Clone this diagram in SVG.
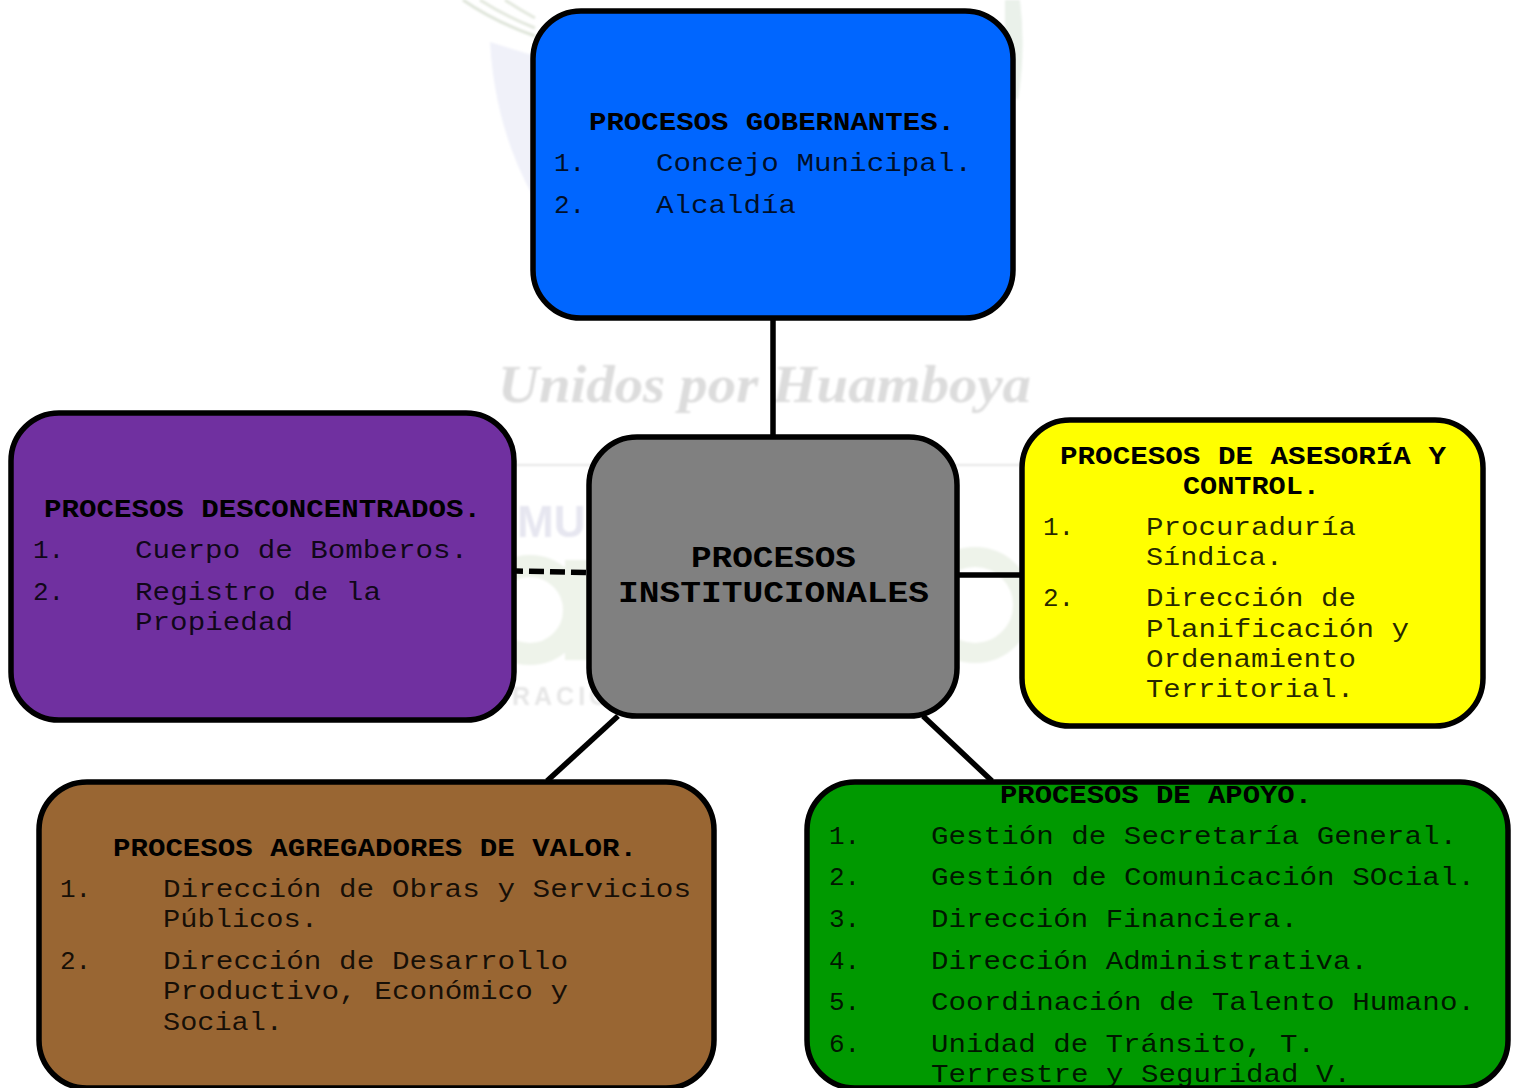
<svg xmlns="http://www.w3.org/2000/svg" width="1515" height="1088" viewBox="0 0 1515 1088">
<defs>
<filter id="soft" x="-10%" y="-10%" width="120%" height="120%"><feGaussianBlur stdDeviation="1"/></filter>
</defs>
<style>
.box{stroke:#000;stroke-width:5.5}
.b{font-family:"Liberation Mono","Courier New",monospace;font-weight:700;font-size:26px;fill:#000}
.r{font-family:"Liberation Mono","Courier New",monospace;font-size:26px;fill:#000;fill-opacity:.85}
.c{stroke:#000;stroke-width:5.5;fill:none}
</style>
<rect width="1515" height="1088" fill="#fff"/>
<g id="watermark" filter="url(#soft)">
<path d="M490 42L535 56V200Q495 130 490 42Z" fill="#f0f1f9"/>
<path d="M1005 0H1020Q1026 50 1018 100L1005 90Z" fill="#eaf1ea"/>
<path d="M463 0Q495 22 535 36" fill="none" stroke="#dfe5da" stroke-width="3"/>
<path d="M480 0Q505 16 535 28" fill="none" stroke="#e3e8de" stroke-width="3"/>
<path d="M505 0Q520 10 535 18" fill="none" stroke="#e3e8de" stroke-width="3"/>
<path d="M515 465H1025" stroke="#e6e6e6" stroke-width="2"/>
<text x="498" y="402" textLength="533" lengthAdjust="spacingAndGlyphs" font-family="Liberation Serif,serif" font-style="italic" font-weight="700" font-size="52" fill="#dcdcdc">Unidos por Huamboya</text>
<text x="517" y="537" font-family="Liberation Sans,sans-serif" font-weight="700" font-size="44" fill="#e6e6f0">MUI</text>
<text x="512" y="705" font-family="Liberation Sans,sans-serif" font-weight="700" font-size="25" letter-spacing="4" fill="#e6e6e6">RACIO</text>
<circle cx="530" cy="610" r="44" fill="none" stroke="#eef3ea" stroke-width="22"/>
<rect x="565" y="560" width="26" height="100" fill="#eef3ea"/>
<circle cx="975" cy="605" r="48" fill="none" stroke="#eef3ea" stroke-width="20"/>
</g>
<g id="connectors">
<path class="c" d="M773 318V437"/>
<path class="c" d="M516 571L589 572.500" stroke-dasharray="15 6" stroke-dashoffset="8"/>
<path class="c" d="M958 575H1022"/>
<path class="c" d="M618 716L547 781"/>
<path class="c" d="M923 716L992 781"/>
</g>
<g id="n-gobernantes">
<rect class="box" x="533" y="11" width="480" height="307" rx="48" fill="#0066ff"/>
<text class="b" x="589" y="130" textLength="366" lengthAdjust="spacingAndGlyphs">PROCESOS GOBERNANTES.</text>
<text class="r" x="554" y="171">1.</text><text class="r" x="656" y="171" textLength="316" lengthAdjust="spacingAndGlyphs">Concejo Municipal.</text>
<text class="r" x="554" y="213">2.</text><text class="r" x="656" y="213" textLength="140" lengthAdjust="spacingAndGlyphs">Alcaldía</text>
</g>
<g id="n-institucionales">
<rect class="box" x="589" y="437" width="368" height="279" rx="48" fill="#808080"/>
<text class="b" x="691" y="567" style="font-size:29px" textLength="165" lengthAdjust="spacingAndGlyphs">PROCESOS</text>
<text class="b" x="618" y="602" style="font-size:29px" textLength="311" lengthAdjust="spacingAndGlyphs">INSTITUCIONALES</text>
</g>
<g id="n-desconcentrados">
<rect class="box" x="11" y="413" width="503" height="307" rx="48" fill="#7030a0"/>
<text class="b" x="44" y="517" textLength="437" lengthAdjust="spacingAndGlyphs">PROCESOS DESCONCENTRADOS.</text>
<text class="r" x="33" y="558">1.</text><text class="r" x="135" y="558" textLength="333" lengthAdjust="spacingAndGlyphs">Cuerpo de Bomberos.</text>
<text class="r" x="33" y="600">2.</text><text class="r" x="135" y="600" textLength="246" lengthAdjust="spacingAndGlyphs">Registro de la</text>
<text class="r" x="135" y="630" textLength="158" lengthAdjust="spacingAndGlyphs">Propiedad</text>
</g>
<g id="n-asesoria">
<rect class="box" x="1022" y="420" width="461" height="306" rx="48" fill="#ffff00"/>
<text class="b" x="1060" y="464" textLength="386" lengthAdjust="spacingAndGlyphs">PROCESOS DE ASESORÍA Y</text>
<text class="b" x="1183" y="494" textLength="137" lengthAdjust="spacingAndGlyphs">CONTROL.</text>
<text class="r" x="1043" y="535">1.</text><text class="r" x="1146" y="535" textLength="210" lengthAdjust="spacingAndGlyphs">Procuraduría</text>
<text class="r" x="1146" y="565" textLength="137" lengthAdjust="spacingAndGlyphs">Síndica.</text>
<text class="r" x="1043" y="606">2.</text><text class="r" x="1146" y="606" textLength="210" lengthAdjust="spacingAndGlyphs">Dirección de</text>
<text class="r" x="1146" y="637" textLength="263" lengthAdjust="spacingAndGlyphs">Planificación y</text>
<text class="r" x="1146" y="667" textLength="210" lengthAdjust="spacingAndGlyphs">Ordenamiento</text>
<text class="r" x="1146" y="697" textLength="208" lengthAdjust="spacingAndGlyphs">Territorial.</text>
</g>
<g id="n-agregadores">
<rect class="box" x="39" y="782" width="675" height="306" rx="48" fill="#996633"/>
<text class="b" x="113" y="856" textLength="524" lengthAdjust="spacingAndGlyphs">PROCESOS AGREGADORES DE VALOR.</text>
<text class="r" x="60" y="897">1.</text><text class="r" x="163" y="897" textLength="528" lengthAdjust="spacingAndGlyphs">Dirección de Obras y Servicios</text>
<text class="r" x="163" y="927" textLength="155" lengthAdjust="spacingAndGlyphs">Públicos.</text>
<text class="r" x="60" y="969">2.</text><text class="r" x="163" y="969" textLength="405" lengthAdjust="spacingAndGlyphs">Dirección de Desarrollo</text>
<text class="r" x="163" y="999" textLength="405" lengthAdjust="spacingAndGlyphs">Productivo, Económico y</text>
<text class="r" x="163" y="1030" textLength="120" lengthAdjust="spacingAndGlyphs">Social.</text>
</g>
<g id="n-apoyo">
<rect class="box" x="807" y="782" width="701" height="306" rx="48" fill="#009900"/>
<text class="b" x="1000" y="803" textLength="312" lengthAdjust="spacingAndGlyphs">PROCESOS DE APOYO.</text>
<text class="r" x="829" y="844">1.</text><text class="r" x="931" y="844" textLength="526" lengthAdjust="spacingAndGlyphs">Gestión de Secretaría General.</text>
<text class="r" x="829" y="885">2.</text><text class="r" x="931" y="885" textLength="544" lengthAdjust="spacingAndGlyphs">Gestión de Comunicación SOcial.</text>
<text class="r" x="829" y="927">3.</text><text class="r" x="931" y="927" textLength="367" lengthAdjust="spacingAndGlyphs">Dirección Financiera.</text>
<text class="r" x="829" y="969">4.</text><text class="r" x="931" y="969" textLength="437" lengthAdjust="spacingAndGlyphs">Dirección Administrativa.</text>
<text class="r" x="829" y="1010">5.</text><text class="r" x="931" y="1010" textLength="544" lengthAdjust="spacingAndGlyphs">Coordinación de Talento Humano.</text>
<text class="r" x="829" y="1052">6.</text><text class="r" x="931" y="1052" textLength="384" lengthAdjust="spacingAndGlyphs">Unidad de Tránsito, T.</text>
<text class="r" x="931" y="1082" textLength="420" lengthAdjust="spacingAndGlyphs">Terrestre y Seguridad V.</text>
</g>
</svg>
